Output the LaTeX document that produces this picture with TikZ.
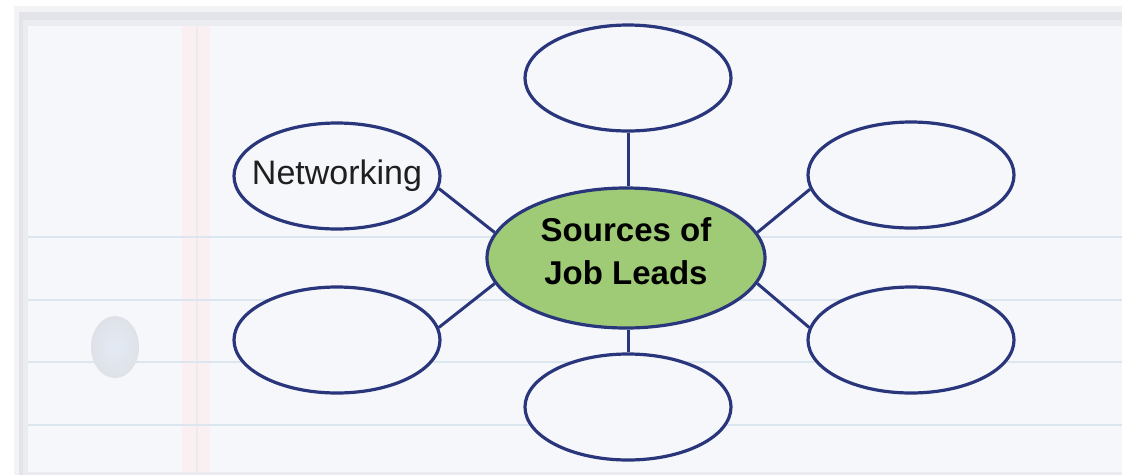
\documentclass[tikz,border=0pt]{standalone}
\usepackage{fontspec}
\setmainfont{Liberation Sans}
\usetikzlibrary{shapes.geometric}

\definecolor{inkblue}{HTML}{29367C}
\definecolor{leafgreen}{HTML}{A0CB76}
\definecolor{paper}{HTML}{F6F7FA}
\definecolor{rule}{HTML}{DCE6EE}
\definecolor{margin}{HTML}{F7E6E8}
\definecolor{edge}{HTML}{E3E4E9}
\definecolor{holefill}{HTML}{E4EAF5}

\tikzset{
  bubble/.style={ellipse, draw=inkblue, line width=3.2pt, fill=paper,
    minimum width=206pt, minimum height=106pt, inner sep=0pt},
  hub/.style={ellipse, draw=inkblue, line width=3.2pt, fill=leafgreen,
    minimum width=278pt, minimum height=140pt, inner sep=0pt},
  spoke/.style={draw=inkblue, line width=3pt},
  ruled/.style={draw=rule, line width=2.5pt},
}

\begin{document}
\begin{tikzpicture}[x=1pt, y=-1pt]
  % canvas
  \useasboundingbox (0,0) rectangle (1122,475);
  \fill[white] (0,0) rectangle (1122,475);

  % notebook sheet with its soft top shadow
  \fill[edge!45] (14,6) rectangle (1122,475);
  \fill[edge] (19,12) rectangle (1122,475);
  \fill[edge!60!paper] (23,20) rectangle (1122,475);
  \fill[paper] (28,26) rectangle (1122,472);

  % margin
  \fill[margin!60] (182,26) rectangle (210,472);
  \draw[gray!15, line width=1.5pt] (197,26) -- (197,472);

  % ruled lines
  \foreach \yy in {237,300,362,425}
    \draw[ruled] (28,\yy) -- (1122,\yy);

  % punched hole
  \shade[inner color=holefill, outer color=holefill!80!gray!70]
    (115,347) ellipse (24pt and 31pt);

  % bubbles
  \node[hub] (hub) at (626,258) {};
  \node[font=\bfseries\fontsize{33}{43}\selectfont, align=center] (hubtext)
    at (626,251) {Sources of\\Job Leads};

  \node[bubble] (net) at (337,176) {};
  \node[font=\fontsize{34}{40}\selectfont, text=black!88] (nettext)
    at (net) {Networking};
  \node[bubble] (bl)  at (337,340) {};
  \node[bubble] (top) at (628,78)  {};
  \node[bubble] (bot) at (628,407) {};
  \node[bubble] (tr)  at (911,175) {};
  \node[bubble] (br)  at (911,340) {};

  % spokes
  \draw[spoke] (net.-7)  -- (hub.169);
  \draw[spoke] (bl.7)    -- (hub.-169);
  \draw[spoke] (tr.-172) -- (hub.11);
  \draw[spoke] (br.173)  -- (hub.-11);
  \draw[spoke] (top.south) -- (top.south |- hub.north);
  \draw[spoke] (bot.north) -- (bot.north |- hub.south);
\end{tikzpicture}
\end{document}
